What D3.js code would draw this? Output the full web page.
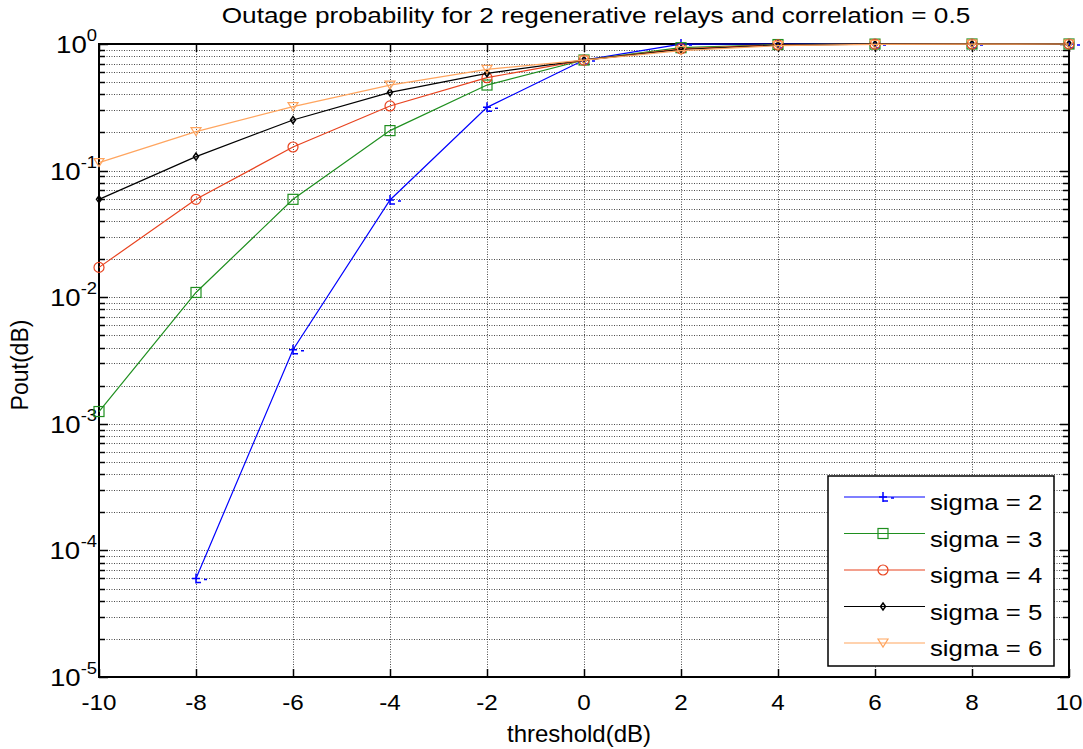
<!DOCTYPE html>
<html><head><meta charset="utf-8">
<script src="https://cdn.jsdelivr.net/npm/d3@7"></script>
<style>body{margin:0;background:#fff;} svg{display:block;font-family:"Liberation Sans",Arial,sans-serif;}</style>
</head><body>
<svg id="c" width="1083" height="749"></svg>
<script>
const thresholds = [-10,-8,-6,-4,-2,0,2,4,6,8,10];
const sigma2 = [null,6e-5,3.85e-3,0.0586,0.316,0.747,0.998,1,1,1,1];
const sigma3 = [1.25e-3,0.0109,0.0593,0.207,0.474,0.747,0.935,0.99,0.998,1,1];
const sigma4 = [0.0172,0.0593,0.1536,0.324,0.542,0.747,0.915,0.985,0.997,1,1];
const sigma5 = [0.0593,0.129,0.251,0.415,0.587,0.747,0.905,0.98,0.996,1,1];
const sigma6 = [0.1155,0.203,0.32,0.474,0.631,0.747,0.885,0.97,0.995,0.999,1];
const seriesNames = ["sigma = 2","sigma = 3","sigma = 4","sigma = 5","sigma = 6"];
const xTicks = [-10,-8,-6,-4,-2,0,2,4,6,8,10];
const yDecades = [-5,-4,-3,-2,-1,0];
const titleText = "Outage probability for 2 regenerative relays and correlation = 0.5";

const series = [
  {name: seriesNames[0], values: sigma2, color: "#0000ff", marker: "plus"},
  {name: seriesNames[1], values: sigma3, color: "#1f8f1f", marker: "square"},
  {name: seriesNames[2], values: sigma4, color: "#e8431f", marker: "circle"},
  {name: seriesNames[3], values: sigma5, color: "#000000", marker: "diamond"},
  {name: seriesNames[4], values: sigma6, color: "#ffa55f", marker: "triangle"}
];

const svg = d3.select("#c");
const L = 99, R = 1069, T = 44, B = 677;
const x = d3.scaleLinear().domain([-10,10]).range([L,R]);
const y = d3.scaleLog().domain([1e-5,1]).range([B,T]);

function stext(parent, tx, ty, size, k, anchor, str) {
  return parent.append("text")
    .attr("transform", `translate(${tx},${ty}) scale(${k},1)`)
    .attr("font-size", size).attr("text-anchor", anchor).attr("fill", "#000").text(str);
}

// grid
const g = svg.append("g").attr("stroke","#4a4a4a").attr("stroke-width",1).attr("stroke-dasharray","1,1.5");
const minorVals = [];
for (let d = -5; d < 0; d++) for (let m = 2; m <= 9; m++) minorVals.push(m*Math.pow(10,d));
const majorVals = yDecades.map(d=>Math.pow(10,d));
g.selectAll(".yg").data(minorVals.concat(majorVals)).enter().append("line")
  .attr("x1",L).attr("x2",R).attr("y1",d=>Math.round(y(d))+0.5).attr("y2",d=>Math.round(y(d))+0.5);
g.selectAll(".xg").data(xTicks).enter().append("line")
  .attr("x1",d=>Math.round(x(d))+0.5).attr("x2",d=>Math.round(x(d))+0.5).attr("y1",T).attr("y2",B);

// ticks
const ticks = svg.append("g").attr("stroke","#000").attr("stroke-width",1.5);
minorVals.concat(majorVals).forEach(v=>{
  const isMajor = majorVals.includes(v);
  const len = isMajor ? 9 : 6;
  const yy = Math.round(y(v))+0.5;
  ticks.append("line").attr("x1",L).attr("x2",L+len).attr("y1",yy).attr("y2",yy);
  ticks.append("line").attr("x1",R).attr("x2",R-len).attr("y1",yy).attr("y2",yy);
});
xTicks.forEach(v=>{
  const xx = Math.round(x(v))+0.5;
  ticks.append("line").attr("x1",xx).attr("x2",xx).attr("y1",B).attr("y2",B-8);
  ticks.append("line").attr("x1",xx).attr("x2",xx).attr("y1",T).attr("y2",T+8);
});

// frame
svg.append("rect").attr("x",L).attr("y",T).attr("width",R-L).attr("height",B-T)
  .attr("fill","none").attr("stroke","#000").attr("stroke-width",2);

// x tick labels
const xl = svg.append("g");
xTicks.forEach(v=>stext(xl, x(v), 710, 22, 1.1, "middle", v));

// y tick labels
const yl = svg.append("g");
yDecades.forEach(d=>{
  const yy = y(Math.pow(10,d));
  const sup = stext(yl, L-2, yy-3, 16, 1.15, "end", d);
  const supW = sup.node().getBBox().width*1.15;
  stext(yl, L-2-supW, yy+9, 24, 1.15, "end", "10");
});

// title & labels
stext(svg, 596, 23, 22, 1.19, "middle", titleText);
stext(svg, 579, 742, 24, 1.0, "middle", "threshold(dB)");
svg.append("text").attr("transform",`translate(28,365) rotate(-90)`)
  .attr("text-anchor","middle").attr("font-size",23).text("Pout(dB)");

function drawMarker(sel, type, cx, cy, color) {
  if (type === "plus") {
    sel.append("path").attr("d",`M${cx-4},${cy}H${cx+4}M${cx},${cy-5}V${cy+5}M${cx},${cy+4}H${cx+5}M${cx+8},${cy+1}H${cx+11}`)
      .attr("stroke",color).attr("stroke-width",1.5).attr("fill","none");
  } else if (type === "square") {
    sel.append("rect").attr("x",cx-5).attr("y",cy-5).attr("width",10).attr("height",10)
      .attr("fill","none").attr("stroke",color).attr("stroke-width",1.2);
  } else if (type === "circle") {
    sel.append("circle").attr("cx",cx).attr("cy",cy).attr("r",5)
      .attr("fill","none").attr("stroke",color).attr("stroke-width",1.2);
  } else if (type === "diamond") {
    sel.append("path").attr("d",`M${cx},${cy-3.5}L${cx+2.5},${cy}L${cx},${cy+3.5}L${cx-2.5},${cy}Z`)
      .attr("fill","none").attr("stroke",color).attr("stroke-width",1.5);
  } else if (type === "triangle") {
    sel.append("path").attr("d",`M${cx-5},${cy-4}L${cx+5},${cy-4}L${cx},${cy+4}Z`)
      .attr("fill","none").attr("stroke",color).attr("stroke-width",1.2);
  }
}

const line = d3.line().defined(d=>d[1]!=null).x(d=>x(d[0])).y(d=>y(d[1]));
const plot = svg.append("g");
series.forEach(s=>{
  const pts = thresholds.map((t,i)=>[t,s.values[i]]);
  plot.append("path").datum(pts).attr("d",line).attr("fill","none")
    .attr("stroke",s.color).attr("stroke-width",1.2);
  pts.filter(p=>p[1]!=null).forEach(p=>drawMarker(plot,s.marker,x(p[0]),y(p[1]),s.color));
});

// legend
const lg = svg.append("g");
lg.append("rect").attr("x",828).attr("y",476).attr("width",226).attr("height",190)
  .attr("fill","#fff").attr("stroke","#000").attr("stroke-width",1.5);
series.forEach((s,i)=>{
  const ly = 497 + i*36.5;
  lg.append("line").attr("x1",844).attr("x2",925).attr("y1",ly).attr("y2",ly)
    .attr("stroke",s.color).attr("stroke-width",1.2);
  drawMarker(lg,s.marker,883,ly,s.color);
  stext(lg, 930, ly+13, 23, 1.12, "start", s.name);
});
</script>
</body></html>
